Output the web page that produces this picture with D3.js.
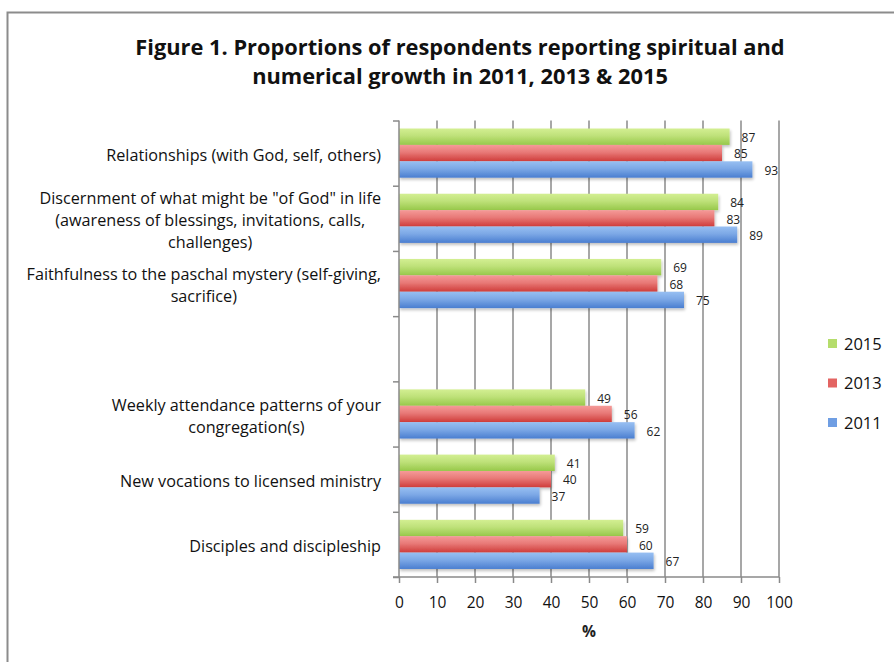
<!DOCTYPE html>
<html>
<head>
<meta charset="utf-8">
<script src="https://cdn.jsdelivr.net/npm/d3@7"></script>
<style>
  html, body { margin: 0; padding: 0; background: #ffffff; }
  svg { display: block; font-family: "Open Sans", Lato, "Liberation Sans", sans-serif; }
</style>
</head>
<body>
<svg id="chart" width="894" height="662"></svg>
<script>
// Category labels, top to bottom (an empty slot separates spiritual and numerical growth)
const categories = [
  ["Relationships (with God, self, others)"],
  ["Discernment of what might be \"of God\" in life", "(awareness of blessings, invitations, calls,", "challenges)"],
  ["Faithfulness to the paschal mystery (self-giving,", "sacrifice)"],
  [],
  ["Weekly attendance patterns of your", "congregation(s)"],
  ["New vocations to licensed ministry"],
  ["Disciples and discipleship"]
];
const years = ["2015", "2013", "2011"];
const values2015 = [87, 84, 69, null, 49, 41, 59];
const values2013 = [85, 83, 68, null, 56, 40, 60];
const values2011 = [93, 89, 75, null, 62, 37, 67];
const xTicks = [0, 10, 20, 30, 40, 50, 60, 70, 80, 90, 100];
const titleLines = ["Figure 1. Proportions of respondents reporting spiritual and",
                    "numerical growth in 2011, 2013 & 2015"];
const axisTitle = "%";

const seriesValues = { "2015": values2015, "2013": values2013, "2011": values2011 };
const palette = {
  "2015": { top: "#d3ef92", bottom: "#97c84a", swatch: "#b5dd6c" },
  "2013": { top: "#f59a98", bottom: "#cf3c3a", swatch: "#e36462" },
  "2011": { top: "#97bff2", bottom: "#4a7ed0", swatch: "#6f9ee3" }
};

const svg = d3.select("#chart");
const defs = svg.append("defs");
years.forEach(yr => {
  const g = defs.append("linearGradient")
    .attr("id", "grad" + yr).attr("x1", 0).attr("y1", 0).attr("x2", 0).attr("y2", 1);
  g.append("stop").attr("offset", "0%").attr("stop-color", palette[yr].top);
  g.append("stop").attr("offset", "45%").attr("stop-color", d3.interpolateRgb(palette[yr].top, palette[yr].bottom)(0.35));
  g.append("stop").attr("offset", "100%").attr("stop-color", palette[yr].bottom);
});
const shadow = defs.append("filter").attr("id", "barShadow")
  .attr("x", "-5%").attr("y", "-20%").attr("width", "110%").attr("height", "160%");
shadow.append("feGaussianBlur").attr("in", "SourceAlpha").attr("stdDeviation", 1.6).attr("result", "b");
shadow.append("feOffset").attr("in", "b").attr("dy", 2).attr("dx", 1).attr("result", "o");
shadow.append("feComponentTransfer").attr("in", "o").attr("result", "s")
  .append("feFuncA").attr("type", "linear").attr("slope", 0.25);
const merge = shadow.append("feMerge");
merge.append("feMergeNode").attr("in", "s");
merge.append("feMergeNode").attr("in", "SourceGraphic");

// Outer frame
svg.append("rect")
  .attr("x", 7.5).attr("y", 12.5).attr("width", 900).attr("height", 700)
  .attr("fill", "none").attr("stroke", "#8c8c8c").attr("stroke-width", 2);

// Title
svg.append("g").selectAll("text").data(titleLines).join("text")
  .attr("x", 460).attr("y", (d, i) => 55 + i * 29)
  .attr("text-anchor", "middle")
  .attr("font-size", 21.8).attr("font-weight", "bold").attr("fill", "#111")
  .text(d => d);

const plotLeft = 399, plotRight = 779, plotTop = 120.5, plotBottom = 577;
const x = d3.scaleLinear().domain([0, 100]).range([plotLeft, plotRight]);
const y = d3.scaleBand().domain(d3.range(categories.length)).range([plotTop, plotBottom]);
const yInner = d3.scaleBand().domain(years).range([0, y.bandwidth()]).paddingOuter(0.49);

// Vertical gridlines
svg.append("g").selectAll("line").data(xTicks.slice(1)).join("line")
  .attr("x1", d => x(d)).attr("x2", d => x(d))
  .attr("y1", plotTop).attr("y2", plotBottom)
  .attr("stroke", "#8a8a8a").attr("stroke-width", 1.5);

// Bars
const groups = svg.append("g").selectAll("g").data(d3.range(categories.length)).join("g")
  .attr("transform", i => `translate(0,${y(i)})`);

groups.each(function(i) {
  const g = d3.select(this);
  years.forEach(yr => {
    const v = seriesValues[yr][i];
    if (v == null) return;
    g.append("rect")
      .attr("x", x(0)).attr("y", yInner(yr))
      .attr("width", x(v) - x(0)).attr("height", yInner.bandwidth())
      .attr("fill", `url(#grad${yr})`)
      .attr("filter", "url(#barShadow)");
  });
});
groups.each(function(i) {
  const g = d3.select(this);
  years.forEach(yr => {
    const v = seriesValues[yr][i];
    if (v == null) return;
    g.append("text")
      .attr("x", x(v) + 12).attr("y", yInner(yr) + yInner.bandwidth() / 2 + 1)
      .attr("dy", "0.35em")
      .attr("font-size", 12).attr("fill", "#222")
      .text(v);
  });
});

// Axes
const xAxis = d3.axisBottom(x).tickValues(xTicks).tickSize(6).tickPadding(14).tickSizeOuter(0);
const gx = svg.append("g").attr("transform", `translate(0,${plotBottom})`).call(xAxis);
gx.select(".domain").attr("stroke", "#8a8a8a").attr("stroke-width", 1.5).attr("d", `M${plotLeft - 6},0H${plotRight}`);
gx.selectAll(".tick line").attr("stroke", "#8a8a8a").attr("stroke-width", 1.5);
gx.selectAll(".tick text").attr("font-size", 15.5).attr("fill", "#111")
  .attr("font-family", "'Open Sans', Lato, sans-serif");

const yAxis = d3.axisLeft(d3.scaleLinear().domain([0, categories.length]).range([plotBottom, plotTop]))
  .ticks(categories.length).tickSize(6).tickFormat("").tickSizeOuter(0);
const gy = svg.append("g").attr("transform", `translate(${plotLeft},0)`).call(yAxis);
gy.select(".domain").attr("stroke", "#8a8a8a").attr("stroke-width", 1.5).attr("d", `M0,${plotTop}V${plotBottom}`);
gy.selectAll(".tick line").attr("stroke", "#8a8a8a").attr("stroke-width", 1.5);

svg.append("text")
  .attr("x", (plotLeft + plotRight) / 2).attr("y", 637).attr("text-anchor", "middle")
  .attr("font-size", 15.5).attr("font-weight", "bold").attr("fill", "#222")
  .text(axisTitle);

// Category labels: each block centred on itself and right-aligned to the axis
const labelRight = 381, lineH = 22;
categories.forEach((lines, i) => {
  if (!lines.length) return;
  const cy = y(i) + y.bandwidth() / 2 + 2;
  const g = svg.append("g");
  const t = g.selectAll("text").data(lines).join("text")
    .attr("x", 0)
    .attr("y", (d, k) => cy + (k - (lines.length - 1) / 2) * lineH)
    .attr("dy", "0.35em").attr("text-anchor", "middle")
    .attr("font-size", 16.2).attr("fill", "#111")
    .text(d => d);
  let w = 0;
  t.each(function() { w = Math.max(w, this.getComputedTextLength()); });
  g.attr("transform", `translate(${labelRight - w / 2},0)`);
});

// Legend
const legend = svg.append("g").selectAll("g").data(years).join("g")
  .attr("transform", (d, i) => `translate(828,${344 + i * 39.5})`);
legend.append("rect").attr("x", 0).attr("y", -5).attr("width", 9).attr("height", 9)
  .attr("fill", d => palette[d].swatch);
legend.append("text").attr("x", 16).attr("y", 0).attr("dy", "0.35em")
  .attr("font-size", 16.5).attr("fill", "#111").text(d => d);
</script>
</body>
</html>
